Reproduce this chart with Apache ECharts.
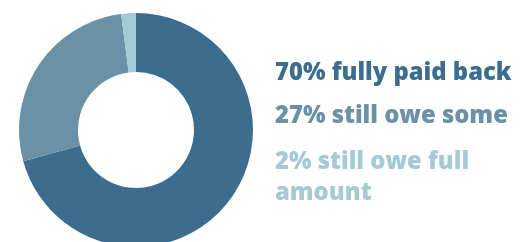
<!DOCTYPE html>
<html><head><meta charset="utf-8">
<script src="https://cdn.jsdelivr.net/npm/echarts@6/dist/echarts.min.js"></script>
<style>html,body{margin:0;padding:0;background:#fff}#c{width:530px;height:242px}</style>
</head><body><div id="c"></div>
<script>
const categories = ['fully paid back', 'still owe some', 'still owe full amount'];
const values = [70, 27, 2];
const labelLines = [['70% fully paid back'], ['27% still owe some'], ['2% still owe full', 'amount']];
const colors = ['#3c6d8e', '#6a91a5', '#a4c9d7'];

const chart = echarts.init(document.getElementById('c'));
const graphics = [];
const lineTops = [[61], [104], [150, 181]];
labelLines.forEach((lines, i) => {
  lines.forEach((t, j) => {
    graphics.push({
      type: 'text', left: 275, top: lineTops[i][j],
      style: { text: t, fill: colors[i], font: '800 23.8px "Open Sans"' }
    });
  });
});
chart.setOption({
  animation: false,
  series: [{
    type: 'pie',
    center: [136, 130],
    radius: [58, 117],
    startAngle: 90,
    clockwise: true,
    label: { show: false },
    labelLine: { show: false },
    silent: true,
    itemStyle: { borderWidth: 0 },
    data: categories.map((c, i) => ({ name: c, value: values[i], itemStyle: { color: colors[i] } }))
  }],
  graphic: graphics
});
</script></body></html>
